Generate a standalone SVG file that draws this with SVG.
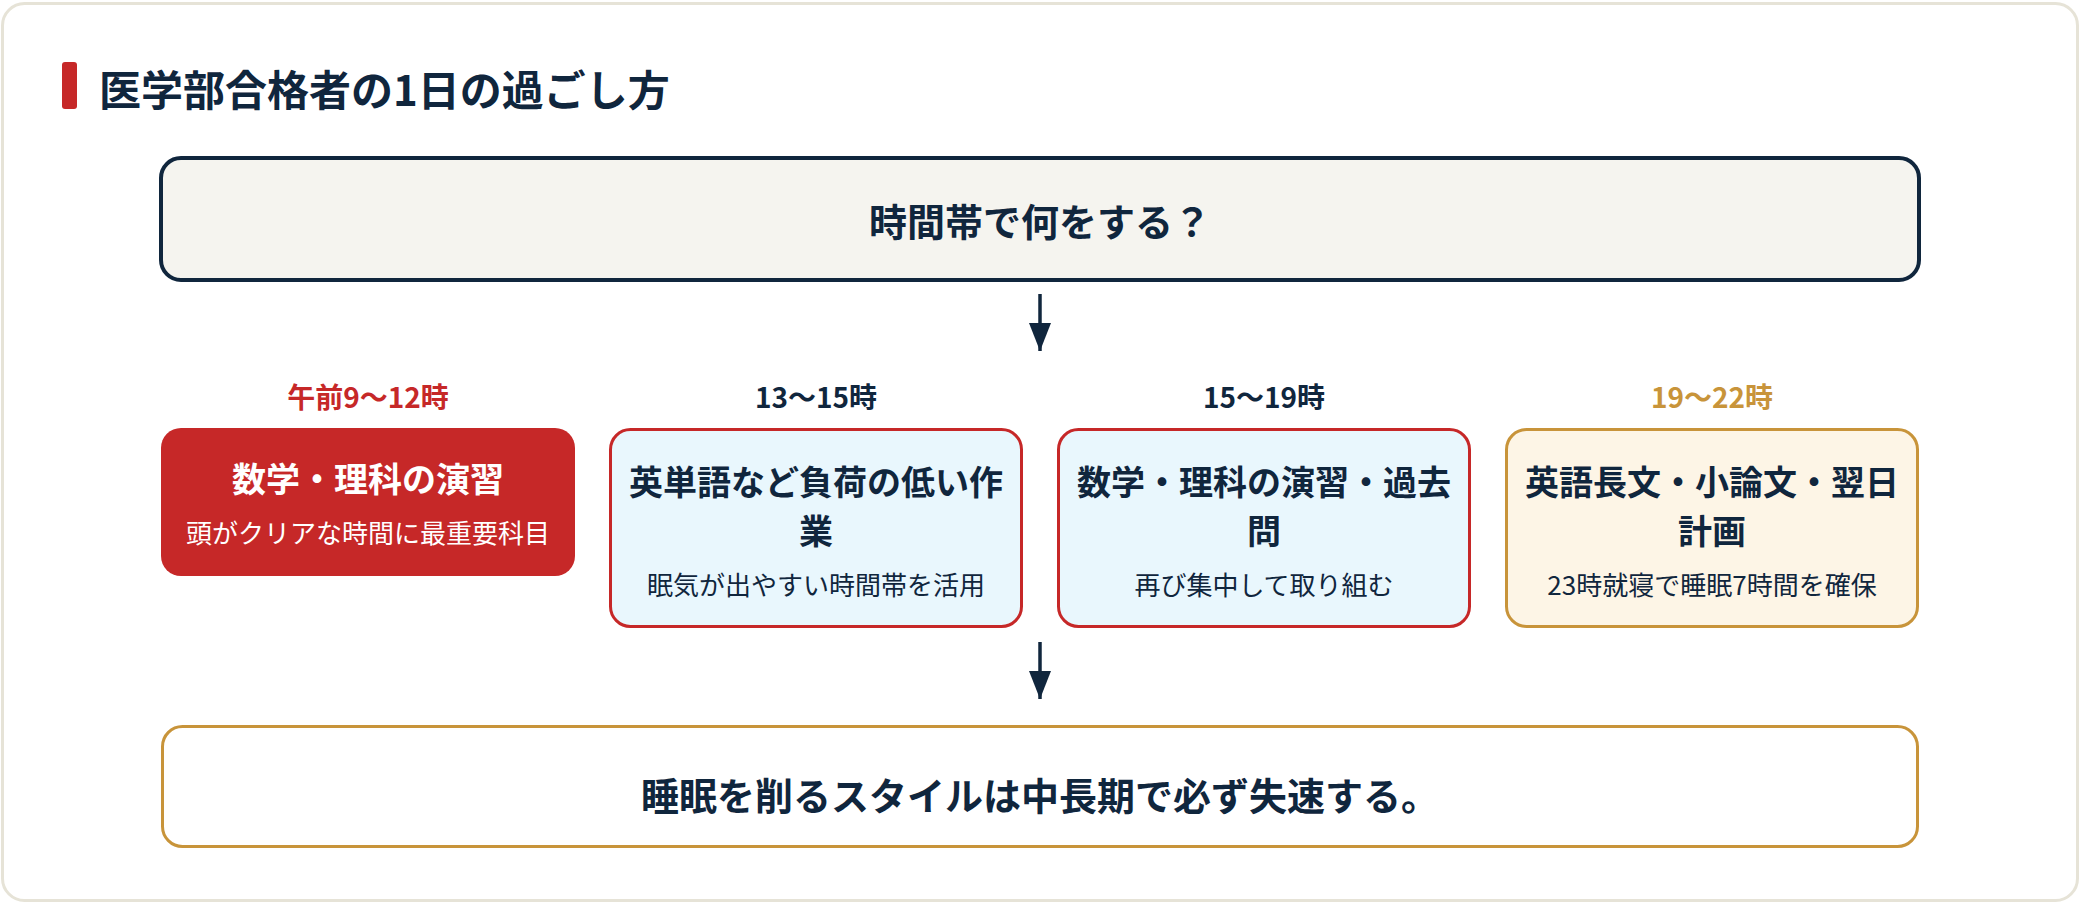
<svg xmlns="http://www.w3.org/2000/svg" width="2080" height="904" viewBox="0 0 2080 904">
  <style>
    text { font-family: "Noto Sans CJK JP", "Noto Sans", sans-serif; dominant-baseline: central; text-anchor: middle; }
    .navy { fill: #10263d; }
    .title { font-size: 42px; font-weight: 700; text-anchor: start; }
    .head { font-size: 38px; font-weight: 700; }
    .time { font-size: 28px; font-weight: 700; }
    .btitle { font-size: 34px; font-weight: 700; }
    .bsub { font-size: 26px; font-weight: 400; }
    .conn { stroke: #10263d; stroke-width: 3.5; fill: none; }
  </style>
  <defs>
    <marker id="arrow" viewBox="0 0 28 22" refX="28" refY="11" markerWidth="28" markerHeight="22" markerUnits="userSpaceOnUse" orient="auto">
      <path d="M0,0 L28,11 L0,22 Z" fill="#10263d"/>
    </marker>
  </defs>
  <rect x="0" y="0" width="2080" height="904" fill="#ffffff"/>
  <rect id="card" x="2.5" y="3.5" width="2075" height="897" rx="22" fill="#ffffff" stroke="#e6e3d7" stroke-width="3"/>

  <g id="heading">
    <rect x="62" y="62" width="15" height="47" rx="3" fill="#c62828"/>
    <text class="title navy" x="99" y="87">医学部合格者の1日の過ごし方</text>
  </g>

  <g id="question">
    <rect x="161" y="158" width="1758" height="122" rx="20" fill="#f5f4ef" stroke="#10263d" stroke-width="4"/>
    <text class="head navy" x="1040" y="219">時間帯で何をする？</text>
  </g>

  <g id="slot1">
    <text class="time" x="368" y="396" fill="#c62828">午前9〜12時</text>
    <rect x="161" y="428" width="414" height="148" rx="20" fill="#c62828"/>
    <text class="btitle" x="368" y="477" fill="#ffffff">数学・理科の演習</text>
    <text class="bsub" x="368" y="531" fill="#ffffff">頭がクリアな時間に最重要科目</text>
  </g>

  <g id="slot2">
    <text class="time navy" x="816" y="396">13〜15時</text>
    <rect x="610.5" y="429.5" width="411" height="197" rx="20" fill="#e9f7fd" stroke="#c62828" stroke-width="3"/>
    <text class="btitle navy" x="816" y="480">英単語など負荷の低い作</text>
    <text class="btitle navy" x="816" y="529">業</text>
    <text class="bsub navy" x="816" y="583">眠気が出やすい時間帯を活用</text>
  </g>

  <g id="slot3">
    <text class="time navy" x="1264" y="396">15〜19時</text>
    <rect x="1058.5" y="429.5" width="411" height="197" rx="20" fill="#e9f7fd" stroke="#c62828" stroke-width="3"/>
    <text class="btitle navy" x="1264" y="480">数学・理科の演習・過去</text>
    <text class="btitle navy" x="1264" y="529">問</text>
    <text class="bsub navy" x="1264" y="583">再び集中して取り組む</text>
  </g>

  <g id="slot4">
    <text class="time" x="1712" y="396" fill="#c8943a">19〜22時</text>
    <rect x="1506.5" y="429.5" width="411" height="197" rx="20" fill="#fdf5e6" stroke="#c8943a" stroke-width="3"/>
    <text class="btitle navy" x="1712" y="480">英語長文・小論文・翌日</text>
    <text class="btitle navy" x="1712" y="529">計画</text>
    <text class="bsub navy" x="1712" y="583">23時就寝で睡眠7時間を確保</text>
  </g>

  <g id="conclusion">
    <rect x="162.5" y="726.5" width="1755" height="120" rx="20" fill="#ffffff" stroke="#c8943a" stroke-width="3"/>
    <text class="head navy" x="1040" y="793">睡眠を削るスタイルは中長期で必ず失速する。</text>
  </g>

  <g id="connectors">
    <line class="conn" x1="1040" y1="294" x2="1040" y2="351" marker-end="url(#arrow)"/>
    <line class="conn" x1="1040" y1="642" x2="1040" y2="699" marker-end="url(#arrow)"/>
  </g>
</svg>
